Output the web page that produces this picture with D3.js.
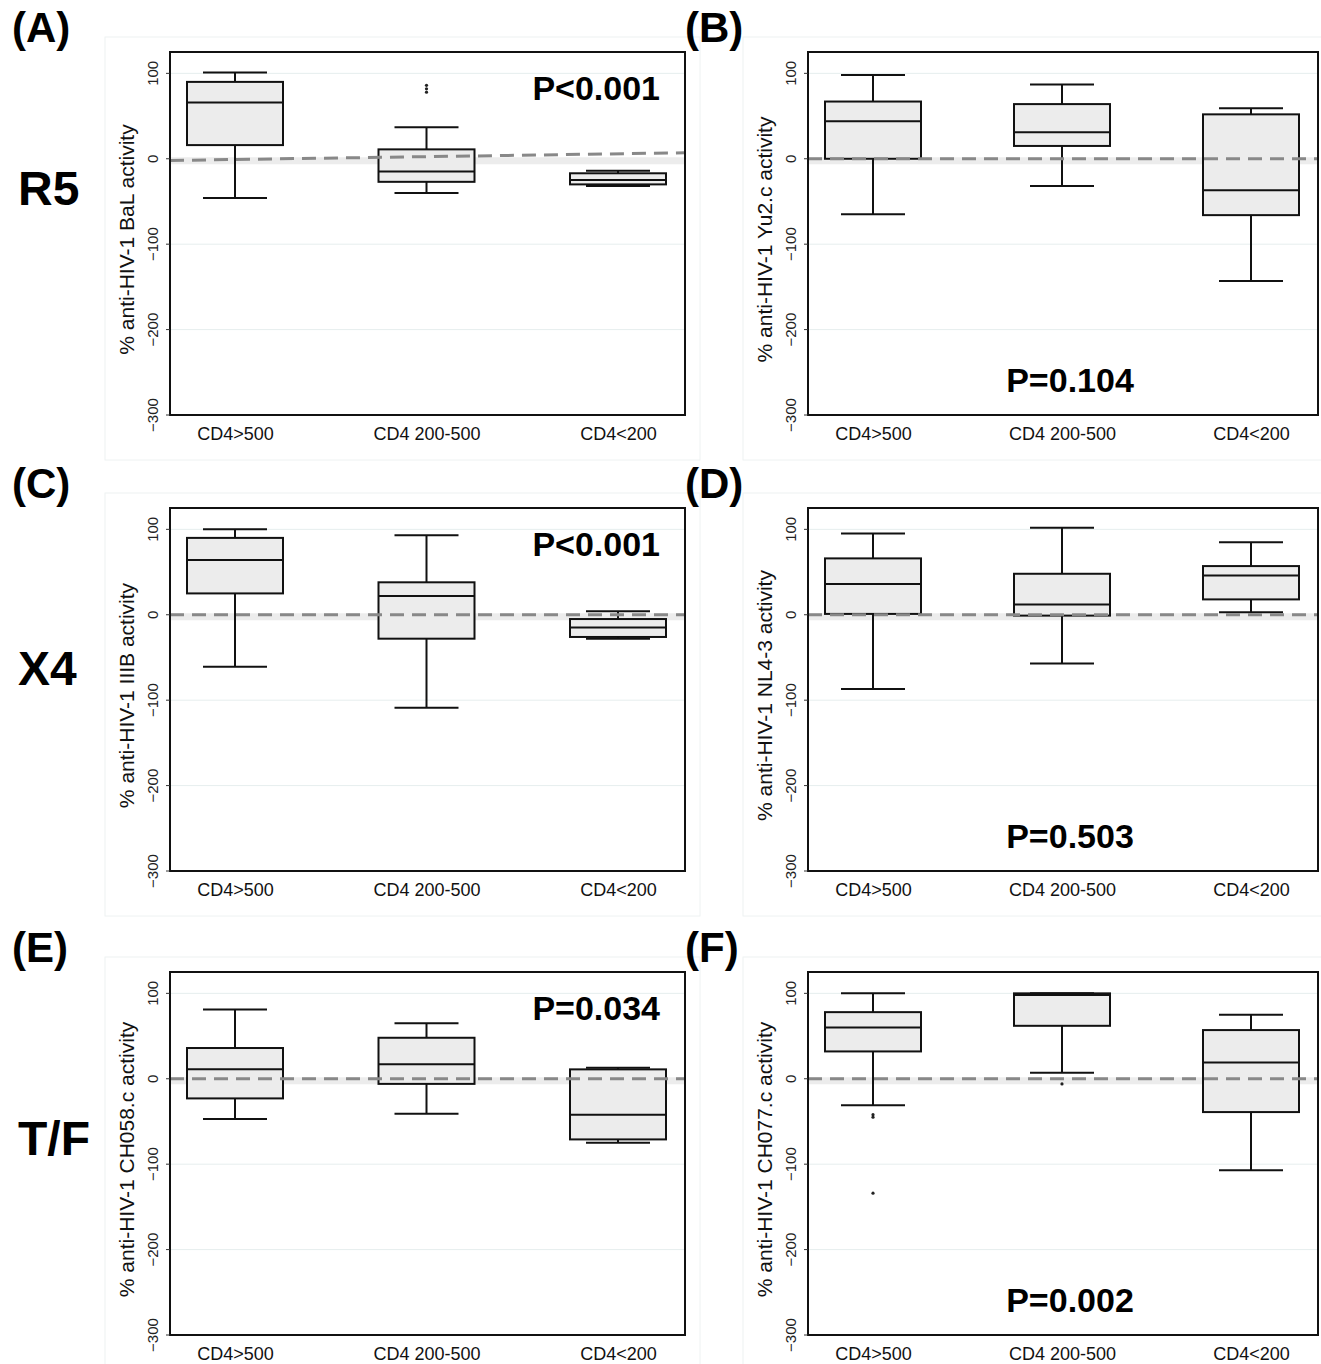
<!DOCTYPE html><html><head><meta charset="utf-8"><script src="https://cdn.jsdelivr.net/npm/d3@7"></script>
<style>body{margin:0;background:#fff}</style></head><body><svg id="c" width="1321" height="1364"></svg>
<script>
const categories=["CD4>500","CD4 200-500","CD4<200"];
const panelLabels=["(A)","(B)","(C)","(D)","(E)","(F)"];
const rowLabels=["R5","X4","T/F"];
const yLabels=["% anti-HIV-1 BaL activity","% anti-HIV-1 Yu2.c activity","% anti-HIV-1 IIIB activity","% anti-HIV-1 NL4-3 activity","% anti-HIV-1 CH058.c activity","% anti-HIV-1 CH077.c activity"];
const pValues=["P<0.001","P=0.104","P<0.001","P=0.503","P=0.034","P=0.002"];
const yTicks=[100,0,-100,-200,-300];
// [min,q1,median,q3,max] per category
const statsA=[[-46,16,66,90,101],[-40,-27,-15,11,37],[-32,-30,-25,-17,-14]];
const statsB=[[-65,0,44,67,98],[-32,15,31,64,87],[-143,-66,-37,52,59]];
const statsC=[[-61,25,64,90,100],[-109,-28,22,38,93],[-28,-26,-15,-5,4]];
const statsD=[[-87,1,36,66,95],[-57,-1,12,48,102],[3,18,46,57,85]];
const statsE=[[-47,-23,11,36,81],[-41,-6,17,48,65],[-75,-71,-42,11,13]];
const statsF=[[-31,32,60,78,100],[7,62,98,100,100],[-107,-39,19,57,75]];
const outliersA=[[],[78,82,86],[]];
const outliersF=[[-42,-45,-134],[-6],[]];
const allStats=[statsA,statsB,statsC,statsD,statsE,statsF];
const none=[[],[],[]];
const allOut=[outliersA,none,none,none,none,outliersF];
const dashEnds=[[-2,7],[0,0],[0,0],[0,0],[0,0],[0,0]];

const svg=d3.select("#c");
const lefts=[170,808], widths=[515,510], tops=[52,508,972], H=363;
const font="Liberation Sans, Arial, sans-serif";
rowLabels.forEach((t,i)=>svg.append("text").attr("x",18).attr("y",[205,685,1155][i]).attr("font-family",font).attr("font-weight","bold").attr("font-size",48).text(t));
for(let p=0;p<6;p++){
  const col=p%2,row=Math.floor(p/2);
  const x0=lefts[col],w=widths[col],y0=tops[row];
  svg.append("rect").attr("x",x0-65).attr("y",y0-15).attr("width",w+80).attr("height",H+60).attr("fill","none").attr("stroke","#eef2f2");
  svg.append("text").attr("x",col?685:12).attr("y",y0-10).attr("font-family",font).attr("font-weight","bold").attr("font-size",42).text(panelLabels[p]);
  const y=d3.scaleLinear().domain([-300,125]).range([y0+H,y0]);
  const x=d3.scalePoint().domain(categories).range([x0+65,x0+w-67]);
  const g=svg.append("g");
  [100,-100,-200].forEach(v=>g.append("line").attr("x1",x0).attr("x2",x0+w).attr("y1",y(v)).attr("y2",y(v)).attr("stroke","#e6eeee"));
  g.append("line").attr("x1",x0).attr("x2",x0+w).attr("y1",y(0)+2).attr("y2",y(0)+2).attr("stroke","#e0e0e0").attr("stroke-width",7).attr("opacity",0.6);
  allStats[p].forEach((s,i)=>{
    const cx=x(categories[i]), bw=96, cw=64;
    g.append("line").attr("x1",cx).attr("x2",cx).attr("y1",y(s[0])).attr("y2",y(s[4])).attr("stroke","#111").attr("stroke-width",2);
    [s[0],s[4]].forEach(v=>g.append("line").attr("x1",cx-cw/2).attr("x2",cx+cw/2).attr("y1",y(v)).attr("y2",y(v)).attr("stroke","#111").attr("stroke-width",2));
    g.append("rect").attr("x",cx-bw/2).attr("y",y(s[3])).attr("width",bw).attr("height",y(s[1])-y(s[3])).attr("fill","#ececec").attr("stroke","#111").attr("stroke-width",2);
    g.append("line").attr("x1",cx-bw/2).attr("x2",cx+bw/2).attr("y1",y(s[2])).attr("y2",y(s[2])).attr("stroke","#111").attr("stroke-width",2);
    (allOut[p][i]||[]).forEach(v=>g.append("circle").attr("cx",cx).attr("cy",y(v)).attr("r",1.6).attr("fill","#222"));
  });
  const de=dashEnds[p];
  g.append("line").attr("x1",x0).attr("x2",x0+w).attr("y1",y(de[0])).attr("y2",y(de[1])).attr("stroke","#888").attr("stroke-width",3).attr("stroke-dasharray","14,8");
  g.append("rect").attr("x",x0).attr("y",y0).attr("width",w).attr("height",H).attr("fill","none").attr("stroke","#111").attr("stroke-width",2);
  const ax=g.append("g").attr("transform",`translate(${x0},0)`).call(d3.axisLeft(y).tickValues(yTicks).tickSize(4).tickFormat(d3.format("d")));
  ax.select(".domain").remove();
  ax.selectAll(".tick").attr("transform",null);
  ax.selectAll(".tick line").attr("y1",d=>y(d)).attr("y2",d=>y(d)).attr("stroke","#333");
  ax.selectAll("text").attr("font-family",font).attr("font-size",15).attr("fill","#222")
    .attr("transform",d=>`translate(-12,${y(d)}) rotate(-90)`).attr("x",0).attr("y",0).attr("dy","0").attr("text-anchor","middle");
  const xa=g.append("g").attr("transform",`translate(0,${y0+H})`).call(d3.axisBottom(x).tickSize(0));
  xa.select(".domain").remove();
  xa.selectAll("text").attr("font-family",font).attr("font-size",18).attr("dy","1.2em").attr("fill","#111");
  g.append("text").attr("transform",`translate(${x0-36},${y0+H/2+6}) rotate(-90)`).attr("text-anchor","middle").attr("font-family",font).attr("font-size",21).attr("fill","#111").text(yLabels[p]);
  const bottom=col===1;
  g.append("text").attr("x",bottom?x0+w/2+7:x0+w-25).attr("y",bottom?y0+H-23:y0+48).attr("text-anchor",bottom?"middle":"end").attr("font-family",font).attr("font-weight","bold").attr("font-size",34).text(pValues[p]);
}
</script></body></html>
